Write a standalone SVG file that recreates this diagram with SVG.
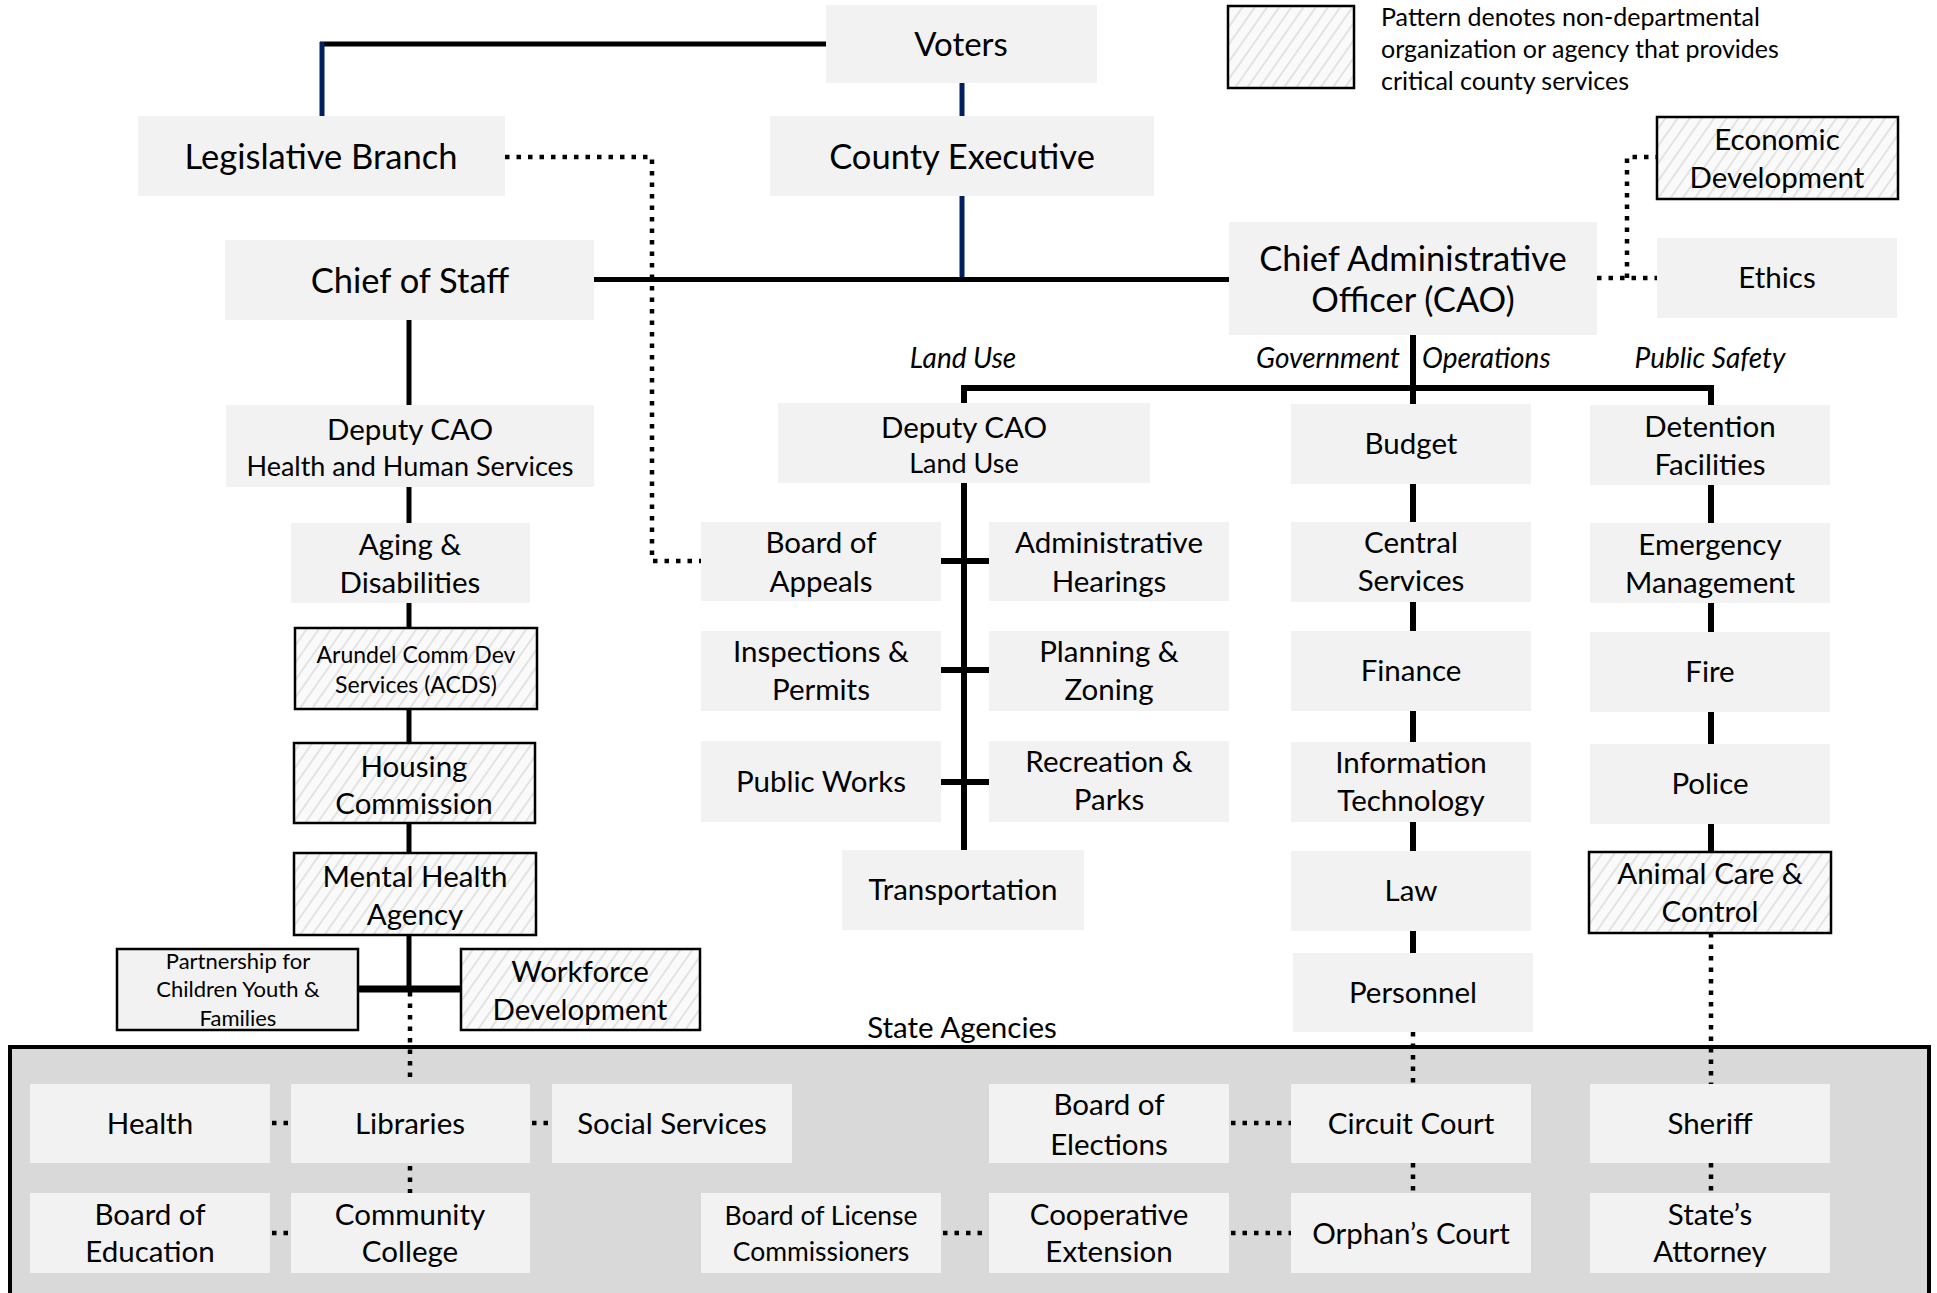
<svg xmlns="http://www.w3.org/2000/svg" width="1937" height="1293" viewBox="0 0 1937 1293">
<defs>
<pattern id="hatch" patternUnits="userSpaceOnUse" width="10" height="10" patternTransform="rotate(35)">
<rect width="10" height="10" fill="#fafafa"/>
<line x1="2" y1="0" x2="2" y2="10" stroke="#e3e3e3" stroke-width="2"/>
</pattern>
</defs>
<style>
text{font-family:Lato,"Open Sans",sans-serif;fill:#000;text-anchor:middle}
.b{fill:#f2f2f2}
.h{fill:url(#hatch);stroke:#000;stroke-width:2.5}
.pb{fill:#f2f2f2;stroke:#000;stroke-width:2.5}
.f34{font-size:34.5px}.f33{font-size:33px}.f28{font-size:29.5px}.f25{font-size:27px}.f24{font-size:26.5px}.f21{font-size:23px}.f20{font-size:22px}
.it{font-size:28px;font-style:italic}
.leg{font-size:25px;text-anchor:start}
.s{fill:none;stroke:#000;stroke-width:6}
.s5{fill:none;stroke:#000;stroke-width:5}
.nv{fill:none;stroke:#002060;stroke-width:5}
.d{fill:none;stroke:#000;stroke-width:4.5;stroke-dasharray:4.5 7}
</style>
<rect x="10" y="1047" width="1919" height="270" fill="#d9d9d9" stroke="#000" stroke-width="4"/>
<text x="962" y="1038" class="f28">State Agencies</text>
<g id="connectors">
<path class="s5" d="M826,44 H320"/>
<path class="nv" d="M322,42 V116"/>
<path class="nv" d="M962,83 V116"/>
<path class="nv" d="M962,196 V279"/>
<path class="s5" d="M594,279.5 H1229"/>
<path class="s5" d="M409,320 V405 M409,487 V523 M409,603 V628 M409,709 V743 M409,823 V853 M409,935 V989"/>
<path class="s" style="stroke-width:7" d="M358,989 H461"/>
<path class="s" d="M964,406 V388 H1711 V405 M1413,335 V404"/>
<path class="s" d="M964,483 V850 M941,561 H989 M941,670 H989 M941,782 H989"/>
<path class="s" d="M1413,484 V522 M1413,602 V631 M1413,711 V742 M1413,822 V851 M1413,931 V953"/>
<path class="s" d="M1711,485 V523 M1711,603 V632 M1711,712 V744 M1711,824 V852"/>
<path class="d" d="M505,157 H652 V561 H701"/>
<path class="d" d="M1597,278 H1657 M1627,278 V157 H1657"/>
<path class="d" d="M410,992 V1084"/>
<path class="d" d="M1413,1032 V1084 M1413,1163 V1193"/>
<path class="d" d="M1711,933 V1084 M1711,1163 V1193"/>
<path class="d" d="M272,1123 H291 M532,1123 H552 M410,1166 V1193 M272,1233 H291"/>
<path class="d" d="M943,1233 H989 M1231,1233 H1291 M1231,1123 H1291"/>
</g>
<text x="963" y="368" class="it">Land Use</text>
<text x="1400" y="368" class="it" style="text-anchor:end">Government</text>
<text x="1422" y="368" class="it" style="text-anchor:start">Operations</text>
<text x="1710" y="368" class="it">Public Safety</text>
<g id="legend"><rect x="1228" y="6" width="126" height="82" class="h"/>
<text x="1381" y="26" class="leg">Pattern denotes non-departmental</text>
<text x="1381" y="58" class="leg">organization or agency that provides</text>
<text x="1381" y="90" class="leg">critical county services</text></g>
<g id="voters"><rect x="826" y="5" width="271" height="78" class="b"/><text x="961" y="56" class="f33">Voters</text></g>
<g id="legislative"><rect x="138" y="116" width="367" height="80" class="b"/><text x="321" y="169" class="f34">Legislative Branch</text></g>
<g id="county-exec"><rect x="770" y="116" width="384" height="80" class="b"/><text x="962" y="169" class="f34">County Executive</text></g>
<g id="chief-of-staff"><rect x="225" y="240" width="369" height="80" class="b"/><text x="410" y="293" class="f34">Chief of Staff</text></g>
<g id="cao"><rect x="1229" y="222" width="368" height="113" class="b"/><text x="1413" y="271" class="f34">Chief Administrative</text><text x="1413" y="312" class="f34">Officer (CAO)</text></g>
<g id="econ-dev"><rect x="1657" y="117" width="241" height="82" class="h"/><text x="1777" y="150" class="f28">Economic</text><text x="1777" y="188" class="f28">Development</text></g>
<g id="ethics"><rect x="1657" y="238" width="240" height="80" class="b"/><text x="1777" y="288" class="f28">Ethics</text></g>
<g id="dcao-hhs"><rect x="226" y="405" width="368" height="82" class="b"/><text x="410" y="440" class="f28">Deputy CAO</text><text x="410" y="476" class="f25">Health and Human Services</text></g>
<g id="aging"><rect x="291" y="523" width="239" height="80" class="b"/><text x="410" y="555" class="f28">Aging &amp;</text><text x="410" y="593" class="f28">Disabilities</text></g>
<g id="acds"><rect x="295" y="628" width="242" height="81" class="h"/><text x="416" y="663" class="f21">Arundel Comm Dev</text><text x="416" y="693" class="f21">Services (ACDS)</text></g>
<g id="housing"><rect x="294" y="743" width="241" height="80" class="h"/><text x="414" y="777" class="f28">Housing</text><text x="414" y="814" class="f28">Commission</text></g>
<g id="mental-health"><rect x="294" y="853" width="242" height="82" class="h"/><text x="415" y="887" class="f28">Mental Health</text><text x="415" y="925" class="f28">Agency</text></g>
<g id="partnership"><rect x="117" y="949" width="241" height="81" class="pb"/><text x="238" y="969" class="f20">Partnership for</text><text x="238" y="997" class="f20">Children Youth &amp;</text><text x="238" y="1026" class="f20">Families</text></g>
<g id="workforce"><rect x="461" y="949" width="239" height="81" class="h"/><text x="580" y="982" class="f28">Workforce</text><text x="580" y="1020" class="f28">Development</text></g>
<g id="dcao-land"><rect x="778" y="403" width="372" height="80" class="b"/><text x="964" y="438" class="f28">Deputy CAO</text><text x="964" y="473" class="f25">Land Use</text></g>
<g id="board-appeals"><rect x="701" y="522" width="240" height="79" class="b"/><text x="821" y="553" class="f28">Board of</text><text x="821" y="592" class="f28">Appeals</text></g>
<g id="admin-hearings"><rect x="989" y="522" width="240" height="79" class="b"/><text x="1109" y="553" class="f28">Administrative</text><text x="1109" y="592" class="f28">Hearings</text></g>
<g id="inspections"><rect x="701" y="631" width="240" height="80" class="b"/><text x="821" y="662" class="f28">Inspections &amp;</text><text x="821" y="700" class="f28">Permits</text></g>
<g id="planning"><rect x="989" y="631" width="240" height="80" class="b"/><text x="1109" y="662" class="f28">Planning &amp;</text><text x="1109" y="700" class="f28">Zoning</text></g>
<g id="public-works"><rect x="701" y="741" width="240" height="81" class="b"/><text x="821" y="792" class="f28">Public Works</text></g>
<g id="recreation"><rect x="989" y="741" width="240" height="81" class="b"/><text x="1109" y="772" class="f28">Recreation &amp;</text><text x="1109" y="810" class="f28">Parks</text></g>
<g id="transportation"><rect x="842" y="850" width="242" height="80" class="b"/><text x="963" y="900" class="f28">Transportation</text></g>
<g id="budget"><rect x="1291" y="404" width="240" height="80" class="b"/><text x="1411" y="454" class="f28">Budget</text></g>
<g id="central"><rect x="1291" y="522" width="240" height="80" class="b"/><text x="1411" y="553" class="f28">Central</text><text x="1411" y="591" class="f28">Services</text></g>
<g id="finance"><rect x="1291" y="631" width="240" height="80" class="b"/><text x="1411" y="681" class="f28">Finance</text></g>
<g id="it"><rect x="1291" y="742" width="240" height="80" class="b"/><text x="1411" y="773" class="f28">Information</text><text x="1411" y="811" class="f28">Technology</text></g>
<g id="law"><rect x="1291" y="851" width="240" height="80" class="b"/><text x="1411" y="901" class="f28">Law</text></g>
<g id="personnel"><rect x="1293" y="953" width="240" height="79" class="b"/><text x="1413" y="1003" class="f28">Personnel</text></g>
<g id="detention"><rect x="1590" y="405" width="240" height="80" class="b"/><text x="1710" y="437" class="f28">Detention</text><text x="1710" y="475" class="f28">Facilities</text></g>
<g id="emergency"><rect x="1590" y="523" width="240" height="80" class="b"/><text x="1710" y="555" class="f28">Emergency</text><text x="1710" y="593" class="f28">Management</text></g>
<g id="fire"><rect x="1590" y="632" width="240" height="80" class="b"/><text x="1710" y="682" class="f28">Fire</text></g>
<g id="police"><rect x="1590" y="744" width="240" height="80" class="b"/><text x="1710" y="794" class="f28">Police</text></g>
<g id="animal"><rect x="1589" y="852" width="242" height="81" class="h"/><text x="1710" y="884" class="f28">Animal Care &amp;</text><text x="1710" y="922" class="f28">Control</text></g>
<g id="health"><rect x="30" y="1084" width="240" height="79" class="b"/><text x="150" y="1134" class="f28">Health</text></g>
<g id="libraries"><rect x="291" y="1084" width="239" height="79" class="b"/><text x="410" y="1134" class="f28">Libraries</text></g>
<g id="social"><rect x="552" y="1084" width="240" height="79" class="b"/><text x="672" y="1134" class="f28">Social Services</text></g>
<g id="elections"><rect x="989" y="1084" width="240" height="79" class="b"/><text x="1109" y="1115" class="f28">Board of</text><text x="1109" y="1155" class="f28">Elections</text></g>
<g id="circuit"><rect x="1291" y="1084" width="240" height="79" class="b"/><text x="1411" y="1134" class="f28">Circuit Court</text></g>
<g id="sheriff"><rect x="1590" y="1084" width="240" height="79" class="b"/><text x="1710" y="1134" class="f28">Sheriff</text></g>
<g id="education"><rect x="30" y="1193" width="240" height="80" class="b"/><text x="150" y="1225" class="f28">Board of</text><text x="150" y="1262" class="f28">Education</text></g>
<g id="college"><rect x="291" y="1193" width="239" height="80" class="b"/><text x="410" y="1225" class="f28">Community</text><text x="410" y="1262" class="f28">College</text></g>
<g id="license"><rect x="701" y="1193" width="240" height="80" class="b"/><text x="821" y="1225" class="f24">Board of License</text><text x="821" y="1261" class="f24">Commissioners</text></g>
<g id="coop"><rect x="989" y="1193" width="240" height="80" class="b"/><text x="1109" y="1225" class="f28">Cooperative</text><text x="1109" y="1262" class="f28">Extension</text></g>
<g id="orphans"><rect x="1291" y="1193" width="240" height="80" class="b"/><text x="1411" y="1244" class="f28">Orphan’s Court</text></g>
<g id="states-attorney"><rect x="1590" y="1193" width="240" height="80" class="b"/><text x="1710" y="1225" class="f28">State’s</text><text x="1710" y="1262" class="f28">Attorney</text></g>
</svg>
